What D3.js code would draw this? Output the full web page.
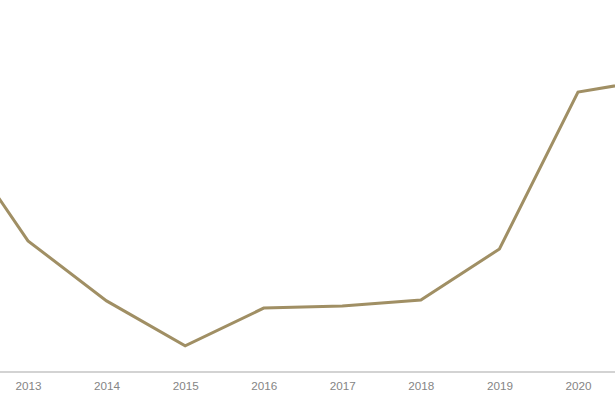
<!DOCTYPE html>
<html><head><meta charset="utf-8">
<script src="https://cdn.jsdelivr.net/npm/d3@7"></script>
<style>body{margin:0;background:#fff;overflow:hidden}</style>
</head><body>
<svg id="c" width="615" height="410"></svg>
<script>
const years = [2012, 2013, 2014, 2015, 2016, 2017, 2018, 2019, 2020, 2021];
const values = [82, 43.7, 23.7, 8.7, 21.3, 22, 24, 41, 93.3, 97.7];
const tickYears = [2013, 2014, 2015, 2016, 2017, 2018, 2019, 2020];

const svg = d3.select("#c");
const x = d3.scaleLinear().domain([2013, 2020]).range([28, 578]);
const y = d3.scaleLinear().domain([0, 100]).range([372, 72]);

svg.append("line").attr("x1", 0).attr("x2", 615)
  .attr("y1", y(0)).attr("y2", y(0))
  .attr("stroke", "#c4c4c4").attr("stroke-width", 1.5);

const axis = d3.axisBottom(x).tickValues(tickYears).tickFormat(d3.format("d")).tickSize(0).tickPadding(10);
const g = svg.append("g").attr("transform", `translate(0,${y(0)})`).call(axis);
g.select(".domain").remove();
g.selectAll("text").attr("fill", "#858585").style("font-family", "Liberation Sans, Arial, sans-serif").style("font-size", "11.7px");

const line = d3.line().x((d, i) => x(years[i])).y(d => y(d));
svg.append("path").datum(values).attr("d", line)
  .attr("fill", "none").attr("stroke", "#a08f64").attr("stroke-width", 3)
  .attr("stroke-linejoin", "miter");
</script>
</body></html>
